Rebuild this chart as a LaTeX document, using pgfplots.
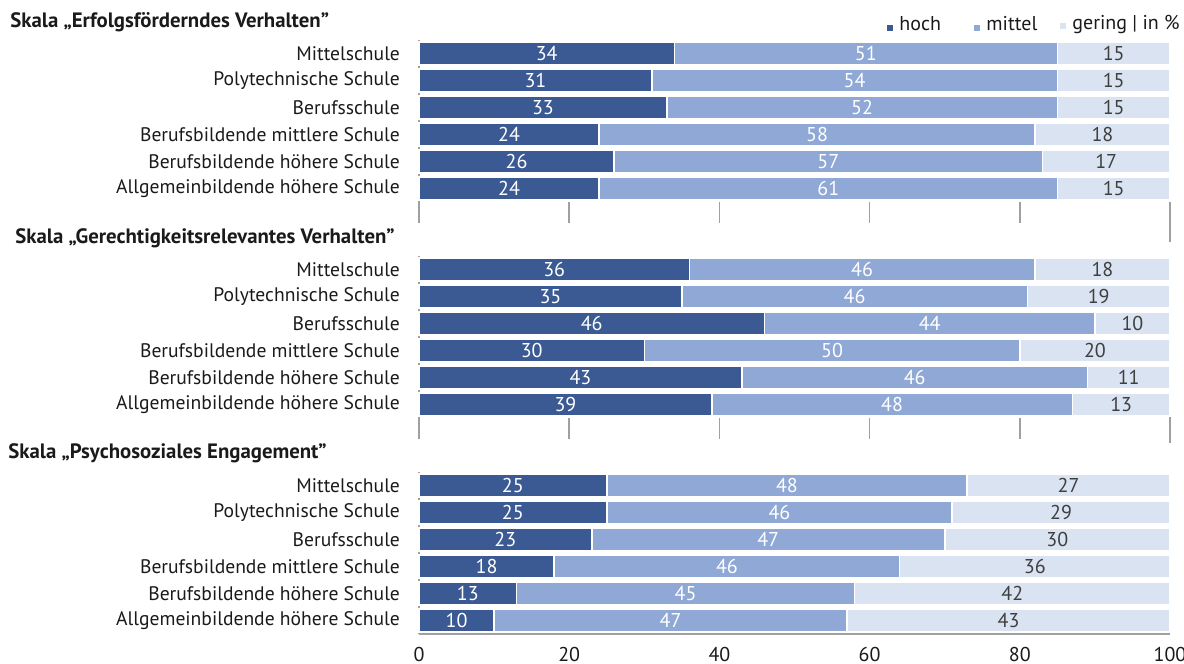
\documentclass[border=0pt]{standalone}
\usepackage{pgfplots}
\pgfplotsset{compat=1.18}
\usepackage{pgfplotstable}
\usepackage{fontspec}
\setmainfont{PT Sans}

\definecolor{hoch}{HTML}{3B5A93}
\definecolor{mittel}{HTML}{8FA8D5}
\definecolor{gering}{HTML}{DAE3F2}
\definecolor{axgray}{HTML}{A0A0A0}
\definecolor{txt}{HTML}{1A1A1A}
\definecolor{numdark}{HTML}{3F3F3F}

% hoch / mittel / gering in %
\pgfplotstableread{
i h m g
1 34 51 15
2 31 54 15
3 33 52 15
4 24 58 18
5 26 57 17
6 24 61 15
}\erfolg
\pgfplotstableread{
i h m g
1 36 46 18
2 35 46 19
3 46 44 10
4 30 50 20
5 43 46 11
6 39 48 13
}\gerecht
\pgfplotstableread{
i h m g
1 25 48 27
2 25 46 29
3 23 47 30
4 18 46 36
5 13 45 42
6 10 47 43
}\psycho

% segment centres for the value labels
\newcommand\centres[1]{%
  \pgfplotstablecreatecol[expr={\thisrow{h}/2}]{hc}#1%
  \pgfplotstablecreatecol[expr={\thisrow{h}+\thisrow{m}/2}]{mc}#1%
  \pgfplotstablecreatecol[expr={\thisrow{h}+\thisrow{m}+\thisrow{g}/2}]{gc}#1}
\centres\erfolg
\centres\gerecht
\centres\psycho

\pgfplotsset{
  geom/.style={
    scale only axis, width=375.5pt, height=81pt,
    xmin=0, xmax=100, ymin=0.5, ymax=6.5, y dir=reverse, clip=false,
  },
  panel/.style={geom,
    xbar stacked, bar width=11.3pt,
    axis x line*=bottom, axis y line*=left,
    axis line style={axgray, line width=0.9pt},
    ytick={1,...,6},
    yticklabels={Mittelschule, Polytechnische Schule, Berufsschule,
      Berufsbildende mittlere Schule, Berufsbildende höhere Schule,
      Allgemeinbildende höhere Schule},
    yticklabel style={font=\fontsize{9.8}{11}\selectfont, text=txt},
    ytick style={draw=none},
    xtick={0,20,...,100},
    tick align=outside,
    major tick length=10.5pt,
    xtick style={axgray, line width=0.8pt},
  },
  seg/.style={fill=#1, draw=white, line width=0.8pt},
  labels/.style={geom, hide axis},
  lbl/.style={only marks, mark=none, point meta=explicit symbolic,
    nodes near coords, every node near coord/.append style={anchor=center,
      text=#1, font=\fontsize{10}{11}\selectfont}},
}

\begin{document}
\begin{tikzpicture}
\path[use as bounding box] (0,0) rectangle (592pt,-332pt);

\begin{axis}[panel, at={(209.5pt,-20pt)}, anchor=north west,
  xticklabels={}, x axis line style={draw=none},
  yticklabel style={xshift=4.5pt}]
  \addplot[seg=hoch] table[x=h, y=i] {\erfolg};
  \addplot[seg=mittel] table[x=m, y=i] {\erfolg};
  \addplot[seg=gering] table[x=g, y=i] {\erfolg};
  \draw[axgray, line width=0.8pt] (axis cs:100,6.5) -- ++(0,-27pt);
\end{axis}
\begin{axis}[labels, at={(209.5pt,-20pt)}, anchor=north west]
  \addplot[lbl=white] table[x=hc, y=i, meta=h] {\erfolg};
  \addplot[lbl=white] table[x=mc, y=i, meta=m] {\erfolg};
  \addplot[lbl=numdark] table[x=gc, y=i, meta=g] {\erfolg};
\end{axis}

\begin{axis}[panel, at={(209.5pt,-128pt)}, anchor=north west,
  xticklabels={}, x axis line style={draw=none},
  yticklabel style={xshift=4.5pt}]
  \addplot[seg=hoch] table[x=h, y=i] {\gerecht};
  \addplot[seg=mittel] table[x=m, y=i] {\gerecht};
  \addplot[seg=gering] table[x=g, y=i] {\gerecht};
  \draw[axgray, line width=0.8pt] (axis cs:100,6.5) ++(0,4pt) -- ++(0,-30pt);
\end{axis}
\begin{axis}[labels, at={(209.5pt,-128pt)}, anchor=north west]
  \addplot[lbl=white] table[x=hc, y=i, meta=h] {\gerecht};
  \addplot[lbl=white] table[x=mc, y=i, meta=m] {\gerecht};
  \addplot[lbl=numdark] table[x=gc, y=i, meta=g] {\gerecht};
\end{axis}

\begin{axis}[panel, at={(209.5pt,-236pt)}, anchor=north west,
  xtick style={draw=none}, major tick length=3pt,
  yticklabel style={xshift=-3pt},
  xticklabel style={font=\fontsize{10}{11}\selectfont, text=txt,
    /pgf/number format/assume math mode=true}]
  \addplot[seg=hoch] table[x=h, y=i] {\psycho};
  \addplot[seg=mittel] table[x=m, y=i] {\psycho};
  \addplot[seg=gering] table[x=g, y=i] {\psycho};
\end{axis}
\begin{axis}[labels, at={(209.5pt,-236pt)}, anchor=north west]
  \addplot[lbl=white] table[x=hc, y=i, meta=h] {\psycho};
  \addplot[lbl=white] table[x=mc, y=i, meta=m] {\psycho};
  \addplot[lbl=numdark] table[x=gc, y=i, meta=g] {\psycho};
\end{axis}

\begin{scope}[font=\bfseries\fontsize{10.4}{12}\selectfont, text=txt]
  \node[anchor=west, inner sep=0pt] at (5pt,-11pt) {Skala „Erfolgsförderndes Verhalten”};
  \node[anchor=west, inner sep=0pt] at (7.5pt,-119pt) {Skala „Gerechtigkeitsrelevantes Verhalten”};
  \node[anchor=west, inner sep=0pt] at (4pt,-226.5pt) {Skala „Psychosoziales Engagement”};
\end{scope}

\begin{scope}[font=\fontsize{10}{11}\selectfont, text=txt]
  \node[anchor=west, inner sep=0pt] at (443.5pt,-12pt) {\textcolor{hoch}{\rule{3pt}{3pt}}\hspace{3pt}hoch};
  \node[anchor=west, inner sep=0pt] at (487pt,-12pt) {\textcolor{mittel}{\rule{3pt}{3pt}}\hspace{3pt}mittel};
  \node[anchor=west, inner sep=0pt] at (530pt,-12pt) {\textcolor{gering}{\rule{3pt}{3pt}}\hspace{3pt}gering | in \%};
\end{scope}
\end{tikzpicture}
\end{document}
